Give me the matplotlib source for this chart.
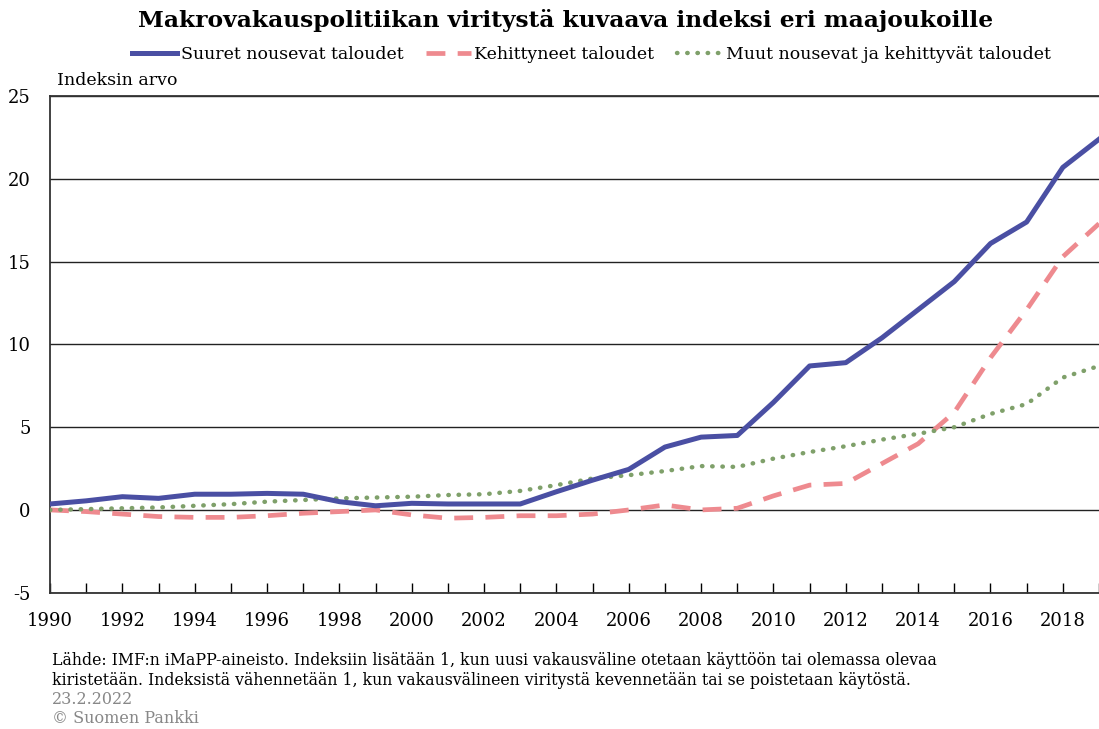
import matplotlib
matplotlib.use('Agg')
import matplotlib.pyplot as plt
from matplotlib.ticker import MultipleLocator

plt.rcParams['font.family'] = ['DejaVu Serif']
plt.rcParams['font.size'] = 12
plt.rcParams['axes.unicode_minus'] = False

BLUE = '#4a4fa3'
PINK = '#ee8a8f'
GREEN = '#7fa06a'

years = list(range(1990, 2020))
suuret = [0.36, 0.55, 0.8, 0.7, 0.95, 0.95, 1.0, 0.95, 0.5, 0.25,
          0.4, 0.36, 0.36, 0.36, 1.1, 1.8, 2.45, 3.8, 4.4, 4.5,
          6.5, 8.7, 8.9, 10.4, 12.1, 13.8, 16.1, 17.4, 20.7, 22.4]
kehittyneet = [0.0, -0.1, -0.25, -0.4, -0.45, -0.45, -0.35, -0.2, -0.1, 0.0,
               -0.3, -0.5, -0.45, -0.35, -0.35, -0.25, 0.0, 0.3, 0.0, 0.1,
               0.85, 1.5, 1.6, 2.8, 4.0, 5.9, 9.2, 12.1, 15.3, 17.3]
muut = [0.0, 0.05, 0.1, 0.15, 0.25, 0.35, 0.5, 0.6, 0.7, 0.75,
        0.8, 0.9, 0.95, 1.15, 1.5, 1.9, 2.1, 2.35, 2.65, 2.6,
        3.1, 3.5, 3.85, 4.25, 4.6, 5.0, 5.8, 6.4, 8.0, 8.7]

fig = plt.figure(figsize=(10.99, 7.29), dpi=100)
ax = fig.add_axes([0.0455, 0.187, 0.9545, 0.681])

ax.plot(years, suuret, color=BLUE, linewidth=3.6, label='Suuret nousevat taloudet', zorder=4)
ax.plot(years, kehittyneet, color=PINK, linewidth=3.4, linestyle=(0, (4, 2.6)),
        label='Kehittyneet taloudet', zorder=3)
ax.plot(years, muut, color=GREEN, linewidth=3.2, linestyle=(0, (0.1, 2.2)),
        dash_capstyle='round', label='Muut nousevat ja kehittyvät taloudet', zorder=3)

ax.set_xlim(1990, 2019)
ax.set_ylim(-5, 25)
ax.yaxis.set_major_locator(MultipleLocator(5))
ax.set_xticks(range(1990, 2019, 2))
ax.xaxis.set_minor_locator(MultipleLocator(1))
ax.tick_params(axis='x', which='both', direction='in', length=7, width=1, labelsize=13, pad=14)
ax.tick_params(axis='y', length=0, labelsize=13, pad=14)
ax.grid(True, axis='y', color='#222222', linewidth=1)
ax.set_axisbelow(True)
ax.spines['right'].set_visible(False)
for s in ['left', 'bottom', 'top']:
    ax.spines[s].set_color('#333333')
    ax.spines[s].set_linewidth(1.3)

fig.text(0.515, 0.972, 'Makrovakauspolitiikan viritystä kuvaava indeksi eri maajoukoille',
         ha='center', va='center', fontsize=16.8, fontweight='bold')
fig.legend(loc='center', bbox_to_anchor=(0.538, 0.925), ncol=3, frameon=False,
           fontsize=12.5, handlelength=2.6, handletextpad=0.2, columnspacing=1.3)
fig.text(0.052, 0.89, 'Indeksin arvo', ha='left', va='center', fontsize=12.5)

fig.text(0.047, 0.08, 'Lähde: IMF:n iMaPP-aineisto. Indeksiin lisätään 1, kun uusi vakausväline otetaan käyttöön tai olemassa olevaa\n'
         'kiristetään. Indeksistä vähennetään 1, kun vakausvälineen viritystä kevennetään tai se poistetaan käytöstä.',
         ha='left', va='center', fontsize=11.3, linespacing=1.25)
fig.text(0.047, 0.04, '23.2.2022', ha='left', va='center', fontsize=11.5, color='#888888')
fig.text(0.047, 0.015, '© Suomen Pankki', ha='left', va='center', fontsize=11.5, color='#888888')

plt.savefig('out.png', dpi=100)
